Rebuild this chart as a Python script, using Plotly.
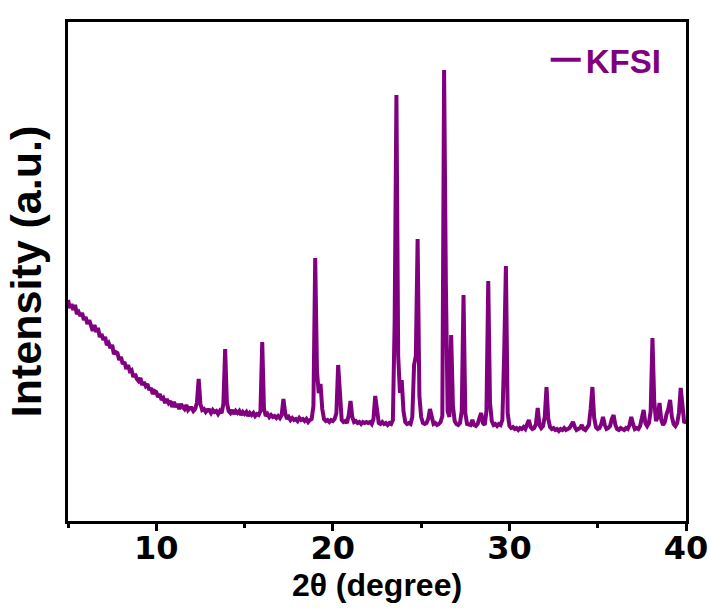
import numpy as np
import plotly.graph_objects as go

# 2-theta sampling grid (degrees), step 0.1 from 5.0 to 40.0
two_theta_start = 5.0
two_theta_step = 0.1
two_theta = np.round(two_theta_start + two_theta_step * np.arange(351), 2)

# Intensity (a.u.) (one row = 1 degree)
intensity = [
    221, 213, 217, 211, 216, 207, 209, 205, 208, 201,   # 5
    204, 197, 201, 195, 190, 196, 189, 193, 184, 187,   # 6
    181, 184, 176, 178, 173, 176, 167, 169, 168, 161,   # 7
    164, 157, 159, 152, 156, 150, 151, 144, 147, 142,   # 8
    140, 143, 136, 139, 135, 137, 131, 133, 127, 130,   # 9
    129, 124, 127, 121, 123, 118, 122, 118, 120, 114,   # 10
    119, 114, 117, 112, 117, 114, 112, 116, 111, 113,   # 11
    113, 110, 112, 118, 142, 117, 111, 112, 109, 111,   # 12
    111, 108, 111, 109, 110, 107, 110, 108, 117, 172,   # 13
    118, 110, 108, 111, 107, 110, 108, 110, 106, 109,   # 14
    107, 109, 105, 108, 106, 108, 105, 107, 106, 110,   # 15
    179, 112, 105, 107, 104, 106, 104, 105, 103, 105,   # 16
    103, 106, 122, 108, 102, 104, 101, 103, 101, 102,   # 17
    100, 103, 101, 102, 100, 102, 99, 101, 102, 115,    # 18
    263, 150, 128, 137, 112, 102, 100, 101, 99, 101,    # 19
    100, 102, 108, 156, 118, 101, 99, 100, 98, 106,     # 20
    120, 104, 99, 100, 98, 99, 97, 99, 98, 99,          # 21
    98, 99, 97, 102, 125, 108, 98, 97, 99, 97,          # 22
    98, 96, 98, 97, 101, 200, 426, 165, 128, 141,       # 23
    110, 99, 97, 98, 97, 104, 156, 165, 282, 125,       # 24
    104, 98, 97, 98, 102, 112, 103, 97, 98, 96,         # 25
    97, 99, 105, 451, 238, 110, 104, 186, 115, 100,     # 26
    97, 96, 98, 110, 226, 108, 97, 96, 96, 101,         # 27
    96, 95, 97, 103, 108, 98, 96, 110, 240, 118,        # 28
    100, 96, 97, 95, 97, 96, 101, 165, 255, 108,        # 29
    95, 93, 94, 92, 93, 91, 93, 92, 94, 92,             # 30
    97, 101, 94, 92, 93, 97, 113, 96, 93, 95,           # 31
    104, 134, 102, 94, 92, 93, 91, 92, 90, 92,          # 32
    91, 93, 91, 92, 93, 96, 99, 94, 91, 92,             # 33
    93, 96, 92, 91, 93, 96, 112, 134, 103, 94,          # 34
    92, 93, 97, 104, 96, 92, 93, 95, 102, 106,          # 35
    96, 92, 91, 93, 92, 91, 93, 92, 96, 104,            # 36
    97, 92, 93, 92, 95, 103, 111, 98, 95, 98,           # 37
    110, 183, 120, 100, 104, 118, 101, 96, 99, 107,     # 38
    112, 121, 104, 97, 95, 98, 108, 133, 110, 98,       # 39
    100,                                                # 40
]

x_tick_vals = [10, 20, 30, 40]
x_tick_text = ["10", "20", "30", "40"]
series_name = "KFSI"

PURPLE = "#800080"
FONT = "Liberation Sans, Arial, sans-serif"
WIDE = "DejaVu Sans, Liberation Sans, sans-serif"

fig = go.Figure()
fig.add_trace(go.Scatter(
    x=two_theta, y=intensity, mode="lines", name=series_name,
    line=dict(color=PURPLE, width=4),
    showlegend=True,
))

fig.update_layout(
    width=710, height=613,
    margin=dict(l=68, r=24, t=22, b=92),
    plot_bgcolor="white", paper_bgcolor="white",
    font=dict(family=FONT, color="black"),
    showlegend=True,
    legend=dict(
        x=0.773, y=0.924, xanchor="left", yanchor="middle",
        bgcolor="rgba(0,0,0,0)", borderwidth=0,
        font=dict(family=FONT, size=33, color=PURPLE, weight="bold"),
        itemwidth=30,
    ),
    xaxis=dict(
        range=[5, 40], tickvals=x_tick_vals, ticktext=x_tick_text,
        ticks="outside", ticklen=7, tickwidth=3, tickcolor="black",
        minor=dict(dtick=5, tick0=5, ticks="outside", ticklen=4, tickwidth=3, tickcolor="black"),
        showline=True, linewidth=3, linecolor="black", mirror=True,
        showgrid=False, zeroline=False, automargin=False,
        ticklabelstandoff=-10,
        tickfont=dict(family=WIDE, size=32, color="black", weight="bold"),
        title=dict(text="2θ (degree)", standoff=4,
                   font=dict(family=FONT, size=32, color="black", weight="bold")),
    ),
    yaxis=dict(
        range=[0, 499], showticklabels=False, ticks="",
        showline=True, linewidth=3, linecolor="black", mirror=True,
        showgrid=False, zeroline=False, automargin=False,
        title=dict(text="Intensity (a.u.)", standoff=10,
                   font=dict(family=FONT, size=43, color="black", weight="bold")),
    ),
)

fig.write_html("out.html")
